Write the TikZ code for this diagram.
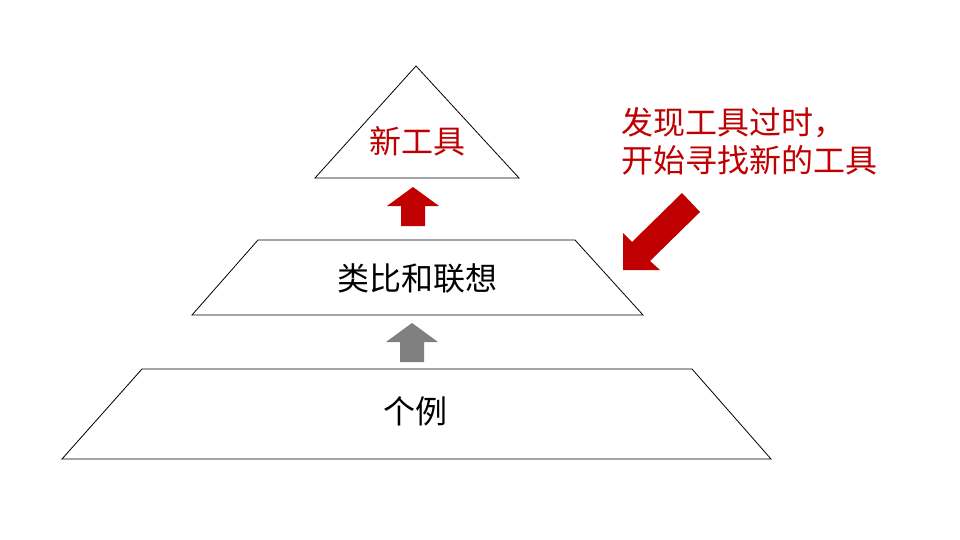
\documentclass[tikz,border=0pt]{standalone}
\usepackage{fontspec}
\setmainfont{Noto Sans CJK SC}
\definecolor{darkred}{HTML}{C00000}
\definecolor{arrowgray}{HTML}{808080}
\begin{document}
\begin{tikzpicture}[x=1pt,y=-1pt,
  level/.style={draw=black, line width=0.8pt, fill=white, line join=miter},
  lbl/.style={font=\fontsize{32}{38}\selectfont, inner sep=0pt},
  redblock/.style={fill=darkred},
  grayblock/.style={fill=arrowgray}]
\useasboundingbox (0,0) rectangle (960,540);
\fill[white] (0,0) rectangle (960,540);
% levels
\draw[level] (416,66) -- (519,178) -- (315,178) -- cycle;
\draw[level] (258,240) -- (575,240) -- (643,315) -- (192,315) -- cycle;
\draw[level] (142,369) -- (692,369) -- (771,459) -- (62,459) -- cycle;
% labels
\node[lbl, text=darkred] (newtool) at (417,141) {新工具};
\node[lbl] (analogy) at (417,278) {类比和联想};
\node[lbl] (cases) at (415,411) {个例};
% up arrows
\fill[redblock] (413,187) -- (439,206) -- (425,206) -- (425,226) -- (401,226) -- (401,206) -- (387,206) -- cycle;
\fill[grayblock] (412,323) -- (438,342) -- (424,342) -- (424,362) -- (400,362) -- (400,342) -- (386,342) -- cycle;
% diagonal arrow
\fill[redblock] (700,212) -- (682,193) -- (632,242) -- (623,233) -- (623,270) -- (660,270) -- (650,261) -- cycle;
% note
\node[lbl, text=darkred, align=left, anchor=west] (note) at (621,141) {发现工具过时，\\开始寻找新的工具};
\end{tikzpicture}
\end{document}
